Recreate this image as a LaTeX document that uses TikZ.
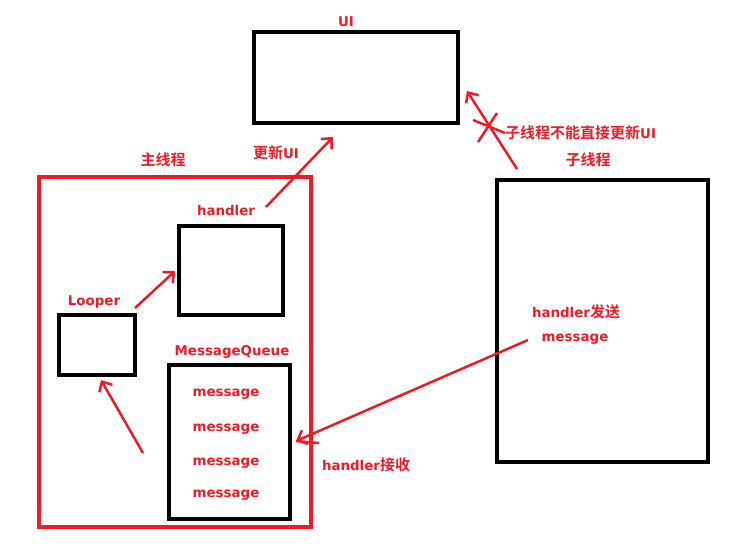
\documentclass[tikz,border=0pt]{standalone}
\usepackage{fontspec}
\setmainfont{DejaVu Sans}
\newfontfamily\cjk{Noto Sans CJK SC}[BoldFont={Noto Sans CJK SC Bold}]
\newcommand{\zhtxt}[1]{{\fontsize{15}{17}\selectfont\cjk\bfseries #1}}
\usetikzlibrary{arrows.meta}
\definecolor{pred}{RGB}{237,28,36}
\tikzset{
  blackbox/.style={draw=black,line width=4pt,minimum width=#1,inner sep=0pt},
  redbox/.style={draw=pred,line width=4pt,inner sep=0pt},
  lbl/.style={text=pred,font=\fontsize{13.4}{15}\selectfont\bfseries,inner sep=0pt,yshift=-2.5pt},
  zh/.style={text=pred,font=\fontsize{15}{17}\selectfont\cjk\bfseries,inner sep=0pt},
  redarrow/.style={draw=pred,line width=2.5pt,-{Straight Barb[length=8pt,width=15pt,line width=2.5pt]}},
  redline/.style={draw=pred,line width=2.5pt}
}
\begin{document}
\begin{tikzpicture}[x=1pt,y=-1pt]
\useasboundingbox (0,0) rectangle (738,549);
% boxes
\node[blackbox=204pt,minimum height=91pt] (ui) at (356,77.5) {};
\node[redbox,minimum width=272pt,minimum height=350pt] (main) at (175,352) {};
\node[blackbox=104pt,minimum height=89pt] (hbox) at (231,270.5) {};
\node[blackbox=76pt,minimum height=60pt] (looper) at (97,345) {};
\node[blackbox=121pt,minimum height=154pt] (mq) at (229.5,442) {};
\node[blackbox=211pt,minimum height=282pt] (child) at (602.5,321) {};
% labels
\node[lbl] (uilbl) at (346,19) {UI};
\node[zh] (mainlbl) at (163,160) {主线程};
\node[lbl] (updlbl) at (276,150) {\zhtxt{更新}UI};
\node[lbl] (hlbl) at (226,208) {handler};
\node[lbl] (looperlbl) at (94,300) {Looper};
\node[lbl] (mqlbl) at (232,349) {MessageQueue};
\node[lbl] (m1) at (226,392) {message};
\node[lbl] (m2) at (226,427) {message};
\node[lbl] (m3) at (226,461) {message};
\node[lbl] (m4) at (226,493) {message};
\node[lbl] (recv) at (366,462) {handler\zhtxt{接收}};
\node[lbl] (send) at (576,309) {handler\zhtxt{发送}};
\node[lbl] (sendmsg) at (575,337) {message};
\node[zh] (childlbl) at (588,160) {子线程};
\node[lbl,anchor=west] (nolbl) at (505,130) {\zhtxt{子线程不能直接更新}UI};
% connectors
\coordinate (a1s) at (266,207);
\coordinate (a1e) at (333,137);
\draw[redarrow] (a1s) -- (a1e);
\coordinate (a2s) at (135,308);
\coordinate (a2e) at (175,271);
\draw[redarrow] (a2s) -- (a2e);
\coordinate (a3s) at (143,453);
\coordinate (a3e) at (101,380);
\draw[redarrow] (a3s) -- (a3e);
\coordinate (a4s) at (528,340);
\coordinate (a4e) at (296,441);
\draw[redarrow] (a4s) -- (a4e);
\coordinate (a4t) at (319,443);
\draw[redline] (a4e) -- (a4t);
\coordinate (a5s) at (517,169);
\coordinate (a5e) at (467,91);
\draw[redarrow] (a5s) -- (a5e);
\coordinate (x1a) at (478,142);
\coordinate (x1b) at (497,113);
\coordinate (x2a) at (473,120);
\coordinate (x2b) at (505,133);
\draw[redline] (x1a) -- (x1b);
\draw[redline] (x2a) -- (x2b);
\end{tikzpicture}
\end{document}
